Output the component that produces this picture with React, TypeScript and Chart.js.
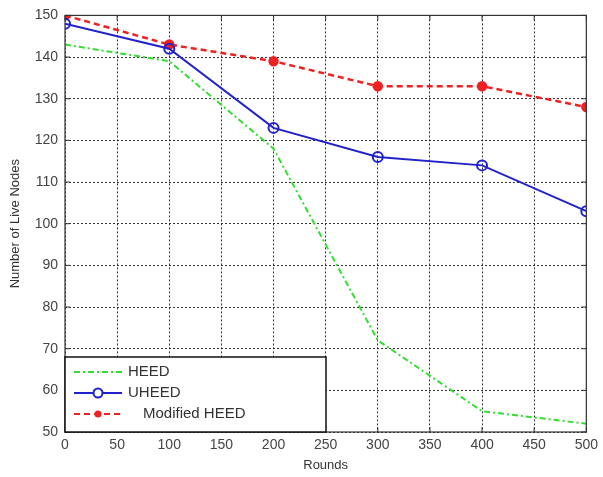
import React, { useEffect, useRef } from "react";
import { Chart, registerables } from "chart.js";

Chart.register(...registerables);

const rounds = [0, 100, 200, 300, 400, 500];
const heed = [143, 139, 118, 72, 55, 52];
const uheed = [148, 142, 123, 116, 114, 103];
const modifiedHeed = [150, 143, 139, 133, 133, 128];
const seriesNames = ["HEED", "UHEED", "Modified HEED"];

const FONT = "'Liberation Sans', Arial, sans-serif";

const frameAndLegend = {
  id: "frameAndLegend",
  afterDraw(chart: any) {
    const { ctx, chartArea, scales } = chart;
    const { left, right, top, bottom } = chartArea;
    ctx.save();
    // frame
    ctx.strokeStyle = "#333";
    ctx.lineWidth = 1.2;
    ctx.setLineDash([]);
    ctx.strokeRect(left, top, right - left, bottom - top);
    // inward tick marks
    ctx.lineWidth = 1;
    ctx.beginPath();
    scales.x.ticks.forEach((t: any) => {
      const px = scales.x.getPixelForValue(t.value);
      ctx.moveTo(px, bottom);
      ctx.lineTo(px, bottom - 5);
      ctx.moveTo(px, top);
      ctx.lineTo(px, top + 5);
    });
    scales.y.ticks.forEach((t: any) => {
      const py = scales.y.getPixelForValue(t.value);
      ctx.moveTo(left, py);
      ctx.lineTo(left + 5, py);
      ctx.moveTo(right, py);
      ctx.lineTo(right - 5, py);
    });
    ctx.stroke();

    // legend
    const lx = left;
    const ly = 357;
    const lw = 261;
    const lh = bottom - ly;
    ctx.fillStyle = "#fff";
    ctx.fillRect(lx, ly, lw, lh);
    ctx.strokeStyle = "#111";
    ctx.lineWidth = 1.5;
    ctx.strokeRect(lx, ly, lw, lh);

    const rows = [372, 393, 414];
    const x0 = lx + 9;
    const x1 = lx + 57;
    const xm = (x0 + x1) / 2;
    // HEED
    ctx.strokeStyle = "#33dd33";
    ctx.lineWidth = 2;
    ctx.setLineDash([6, 3, 2, 3]);
    ctx.beginPath();
    ctx.moveTo(x0, rows[0]);
    ctx.lineTo(x1, rows[0]);
    ctx.stroke();
    // UHEED
    ctx.strokeStyle = "#2222cc";
    ctx.setLineDash([]);
    ctx.beginPath();
    ctx.moveTo(x0, rows[1]);
    ctx.lineTo(x1, rows[1]);
    ctx.stroke();
    ctx.beginPath();
    ctx.arc(xm, rows[1], 4.5, 0, Math.PI * 2);
    ctx.fillStyle = "#fff";
    ctx.fill();
    ctx.stroke();
    // Modified
    ctx.strokeStyle = "#ee2222";
    ctx.setLineDash([6, 4]);
    ctx.beginPath();
    ctx.moveTo(x0, rows[2]);
    ctx.lineTo(x1, rows[2]);
    ctx.stroke();
    ctx.setLineDash([]);
    ctx.beginPath();
    ctx.arc(xm, rows[2], 3.5, 0, Math.PI * 2);
    ctx.fillStyle = "#ee2222";
    ctx.fill();

    ctx.fillStyle = "#333";
    ctx.font = `15px ${FONT}`;
    ctx.textBaseline = "middle";
    ctx.textAlign = "left";
    ctx.fillText(seriesNames[0], lx + 63, rows[0]);
    ctx.fillText(seriesNames[1], lx + 63, rows[1]);
    ctx.fillText(seriesNames[2], lx + 78, rows[2]);

    // axis titles
    ctx.font = `13px ${FONT}`;
    ctx.fillStyle = "#333";
    ctx.textAlign = "center";
    ctx.fillText("Rounds", (left + right) / 2, 465);
    ctx.translate(15, (top + bottom) / 2);
    ctx.rotate(-Math.PI / 2);
    ctx.fillText("Number of Live Nodes", 0, 0);
    ctx.restore();
  },
};

export default function App() {
  const ref = useRef<HTMLCanvasElement>(null);
  useEffect(() => {
    const toPts = (arr: number[]) => rounds.map((r, i) => ({ x: r, y: arr[i] }));
    const chart = new Chart(ref.current!, {
      type: "line",
      data: {
        datasets: [
          {
            label: seriesNames[0],
            data: toPts(heed),
            borderColor: "#33dd33",
            borderWidth: 2,
            borderDash: [6, 3, 2, 3],
            pointRadius: 0,
            fill: false,
          },
          {
            label: seriesNames[1],
            data: toPts(uheed),
            borderColor: "#2222cc",
            borderWidth: 2,
            pointRadius: 5,
            pointBorderWidth: 2,
            pointBackgroundColor: "rgba(255,255,255,0)",
            pointBorderColor: "#2222cc",
            fill: false,
          },
          {
            label: seriesNames[2],
            data: toPts(modifiedHeed),
            borderColor: "#ee2222",
            borderWidth: 2.5,
            borderDash: [6, 4],
            pointRadius: 4,
            pointStyle: "circle",
            pointBackgroundColor: "#ee2222",
            pointBorderColor: "#ee2222",
            fill: false,
          },
        ],
      },
      options: {
        animation: false,
        responsive: false,
        maintainAspectRatio: false,
        layout: { padding: { left: 0, right: 15, top: 13, bottom: 0 } },
        plugins: { legend: { display: false }, tooltip: { enabled: false } },
        scales: {
          x: {
            type: "linear",
            min: 0,
            max: 500,
            ticks: {
              stepSize: 50,
              color: "#444",
              font: { family: FONT, size: 14 },
              padding: 5,
            },
            grid: {
              color: "#333",
              lineWidth: 1,
              drawTicks: false,
            },
            border: { display: false, dash: [2, 2] },
            afterFit: (s: any) => {
              s.height = 45;
            },
          },
          y: {
            min: 50,
            max: 150,
            ticks: {
              stepSize: 10,
              color: "#444",
              font: { family: FONT, size: 14 },
              padding: 7,
            },
            grid: {
              color: "#333",
              lineWidth: 1,
              drawTicks: false,
            },
            border: { display: false, dash: [2, 2] },
            afterFit: (s: any) => {
              s.width = 65;
            },
          },
        },
      },
      plugins: [frameAndLegend],
    });
    return () => chart.destroy();
  }, []);
  return (
    <div style={{ position: "fixed", left: 0, top: 0, width: 603, height: 477, background: "#fff" }}>
      <canvas ref={ref} width={603} height={477} style={{ width: 603, height: 477 }} />
    </div>
  );
}
